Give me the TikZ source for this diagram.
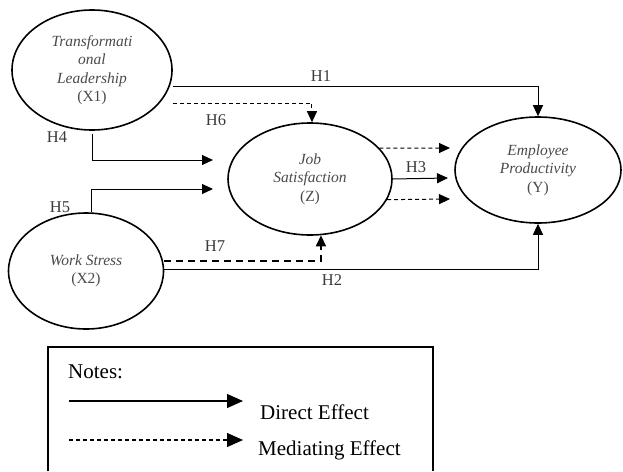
\documentclass[tikz,border=0pt]{standalone}
\usepackage{fontspec}
\setmainfont{Liberation Serif}
\usetikzlibrary{shapes.geometric,arrows.meta}
\definecolor{labelgray}{HTML}{3A3A3A}
\definecolor{textgray}{HTML}{4A4A4A}

\begin{document}
\begin{tikzpicture}[x=1pt,y=-1pt,
    construct/.style={ellipse,draw,line width=1.6pt,inner sep=0pt,align=center,text=textgray,font=\fontsize{15.5}{18.5}\selectfont},
    direct/.style={line width=1pt,-{Triangle[length=11pt,width=10pt]}},
    mediating/.style={direct,dash pattern=on 4pt off 3pt},
    hyp/.style={text=labelgray,font=\fontsize{16.5}{19}\selectfont,inner sep=0pt},
    legendtext/.style={anchor=west,inner sep=0pt,font=\fontsize{21}{24}\selectfont}]
  \useasboundingbox (0,0) rectangle (623,471);

  \node[construct,minimum width=160pt,minimum height=120pt] (x1) at (92,70) {\textit{Transformati}\\\textit{onal}\\\textit{Leadership}\\(X1)};
  \node[construct,minimum width=155pt,minimum height=116pt] (x2) at (86,271) {\textit{Work Stress}\\(X2)};
  \node[construct,minimum width=164pt,minimum height=112pt] (z) at (310,179) {\textit{Job}\\\textit{Satisfaction}\\(Z)};
  \node[construct,minimum width=166pt,minimum height=106pt] (y) at (538,170) {\textit{Employee}\\\textit{Productivity}\\(Y)};

  \coordinate (h4end) at (213,160);
  \coordinate (h5end) at (213,189);
  \coordinate (h3end) at (448,178);
  \coordinate (zyup) at (450,148);
  \coordinate (zydown) at (450,199);

  \draw[direct] ([yshift=-16pt]x1.east) -| (y.north);
  \draw[mediating] ([yshift=-33pt]x1.east) -| (z.88);
  \draw[direct] ([yshift=-3pt]x1.south) |- (h4end);
  \draw[direct] ([xshift=5pt]x2.north) |- (h5end);
  \draw[mediating,line width=1.5pt,dash pattern=on 7pt off 5pt] ([yshift=10pt]x2.east) -| (z.-79);
  \draw[direct] ([yshift=2pt]x2.east) -| (y.south);
  \draw[direct] (z.east) -- (h3end);
  \draw[mediating] (z.24) -- (zyup);
  \draw[mediating] (z.-15) -- (zydown);

  \node[hyp] (h1) at (321,76) {H1};
  \node[hyp] (h2) at (332,280) {H2};
  \node[hyp] (h3) at (416,167) {H3};
  \node[hyp] (h4) at (57,137) {H4};
  \node[hyp] (h5) at (60,207) {H5};
  \node[hyp] (h6) at (216,120) {H6};
  \node[hyp] (h7) at (215,246) {H7};

  \draw[line width=1.6pt] (48,471) -- (48,347) -- (433,347) -- (433,471);
  \node[legendtext] (notes) at (68,372) {Notes:};
  \coordinate (ds) at (69,401);
  \coordinate (de) at (243,401);
  \coordinate (ms) at (69,440);
  \coordinate (me) at (243,440);
  \draw[line width=1.3pt,-{Triangle[length=16pt,width=14pt]}] (ds) -- (de);
  \draw[line width=1.1pt,dash pattern=on 4pt off 3pt,-{Triangle[length=16pt,width=14pt]}] (ms) -- (me);
  \node[legendtext] (directlbl) at (260,412) {Direct Effect};
  \node[legendtext] (medlbl) at (258,450) {Mediating Effect};
\end{tikzpicture}
\end{document}
